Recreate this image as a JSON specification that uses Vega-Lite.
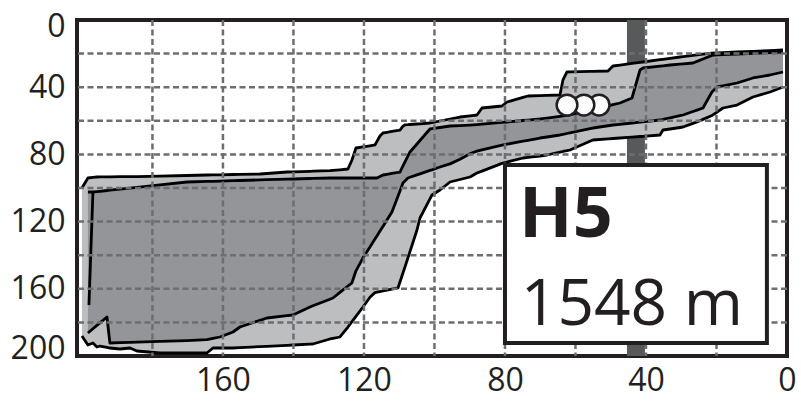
{
  "$schema": "https://vega.github.io/schema/vega-lite/v6.json",
  "width": 710,
  "height": 336,
  "autosize": {"type": "none"},
  "padding": {"left": 77, "top": 20, "right": 14, "bottom": 46},
  "background": "white",
  "config": {
    "view": {"stroke": "#231f20", "strokeWidth": 4},
    "axis": {"grid": false, "ticks": false, "domain": false, "labelFont": "Open Sans", "labelFontSize": 32, "labelColor": "#231f20"}
  },
  "datasets": {
    "band": [{"x0": 40.3, "x1": 45.4}],
    "grid": [{"g": 20}, {"g": 40}, {"g": 60}, {"g": 80}, {"g": 100}, {"g": 120}, {"g": 140}, {"g": 160}, {"g": 180}],
    "dots": [{"x": 53.3, "y": 50.6}, {"x": 57.6, "y": 50.6}, {"x": 62.4, "y": 50.6}],
    "box": [{"x0": 80.0, "x1": 5.7, "y0": 86.3, "y1": 192.3}],
    "labels": [{"x": 76.0, "y": 129.2, "t": "H5"}, {"x": 75.5, "y": 181.5, "t": "1548 m"}],
    "profile": [
      {"x": 200.0, "lo": 100.0, "hi": 188.1},
      {"x": 198.3, "lo": 94.05, "q1": 102.38, "q3": 186.31, "hi": 193.45},
      {"x": 198.01, "v": 169.64},
      {"x": 196.88, "lo": 93.63, "q1": 102.38, "q3": 183.81, "hi": 192.26, "v": 102.38},
      {"x": 195.74, "lo": 93.45, "q1": 102.14, "q3": 181.79, "hi": 194.64},
      {"x": 194.89, "lo": 93.42, "q1": 101.96, "q3": 180.3, "hi": 194.05},
      {"x": 192.91, "lo": 93.33, "q1": 101.49, "q3": 176.79, "hi": 194.88},
      {"x": 192.06, "lo": 93.33, "q1": 101.31, "q3": 192.26, "hi": 195.24},
      {"x": 189.22, "lo": 93.27, "q1": 100.65, "q3": 192.08, "hi": 195.83},
      {"x": 186.38, "lo": 93.21, "q1": 100.06, "q3": 191.9, "hi": 195.24},
      {"x": 184.4, "lo": 93.21, "q1": 99.58, "q3": 191.73, "hi": 197.02},
      {"x": 177.87, "lo": 92.98, "q1": 98.15, "q3": 191.31, "hi": 198.21},
      {"x": 170.21, "lo": 92.56, "q1": 96.43, "q3": 190.83, "hi": 198.21},
      {"x": 164.54, "lo": 92.26, "q1": 96.07, "q3": 190.24, "hi": 198.21},
      {"x": 162.84, "lo": 92.2, "q1": 96.01, "q3": 189.52, "hi": 195.24},
      {"x": 160.85, "lo": 92.14, "q1": 95.89, "q3": 188.69, "hi": 195.24},
      {"x": 157.16, "lo": 91.96, "q1": 95.65, "q3": 185.71, "hi": 195.24},
      {"x": 155.18, "lo": 91.9, "q1": 95.54, "q3": 182.74, "hi": 195.03},
      {"x": 149.5, "lo": 91.67, "q1": 95.18, "q3": 178.75, "hi": 194.4},
      {"x": 147.52, "lo": 91.37, "q1": 95.06, "q3": 177.38, "hi": 194.23},
      {"x": 141.84, "lo": 90.48, "q1": 94.76, "q3": 176.01, "hi": 193.63},
      {"x": 140.14, "lo": 90.36, "q1": 94.64, "q3": 175.6, "hi": 193.45},
      {"x": 135.32, "lo": 90.06, "q1": 94.35, "q3": 170.83, "hi": 192.98},
      {"x": 134.47, "lo": 90.0, "q1": 94.29, "q3": 170.12, "hi": 192.86},
      {"x": 129.65, "lo": 89.7, "q1": 94.05, "q3": 166.19, "hi": 189.88},
      {"x": 128.79, "lo": 89.52, "q1": 94.05, "q3": 165.48, "hi": 189.52},
      {"x": 126.81, "lo": 89.17, "q1": 94.05, "q3": 162.14, "hi": 188.69},
      {"x": 124.54, "lo": 88.69, "q1": 94.05, "q3": 158.33, "hi": 182.74},
      {"x": 123.4, "lo": 83.33, "q1": 94.05, "q3": 156.43, "hi": 179.58},
      {"x": 122.27, "lo": 76.19, "q1": 94.05, "q3": 149.29, "hi": 176.37},
      {"x": 120.28, "lo": 75.54, "q1": 94.05, "q3": 141.55, "hi": 170.83},
      {"x": 118.3, "lo": 74.88, "q1": 94.05, "q3": 135.12, "hi": 165.0},
      {"x": 116.88, "lo": 74.4, "q1": 94.05, "q3": 130.42, "hi": 162.26},
      {"x": 116.31, "lo": 72.26, "q1": 94.05, "q3": 128.51, "hi": 162.02},
      {"x": 115.46, "lo": 69.05, "q1": 93.15, "q3": 125.65, "hi": 161.67},
      {"x": 114.61, "lo": 67.26, "q1": 92.26, "q3": 122.86, "hi": 161.31},
      {"x": 113.48, "lo": 66.85, "q1": 91.85, "q3": 119.05, "hi": 160.83},
      {"x": 112.06, "lo": 66.31, "q1": 91.31, "q3": 114.29, "hi": 160.24},
      {"x": 110.35, "lo": 65.71, "q1": 90.71, "q3": 104.88, "hi": 159.52},
      {"x": 109.79, "lo": 65.48, "q1": 90.48, "q3": 101.73, "hi": 155.95},
      {"x": 108.94, "lo": 63.24, "q1": 86.9, "q3": 97.02, "hi": 150.6},
      {"x": 108.37, "lo": 62.44, "q1": 84.52, "q3": 95.83, "hi": 147.02},
      {"x": 107.52, "lo": 62.32, "q1": 80.95, "q3": 94.05, "hi": 141.52},
      {"x": 106.95, "lo": 62.2, "q1": 78.57, "q3": 93.63, "hi": 137.86},
      {"x": 104.96, "lo": 61.9, "q1": 73.81, "q3": 92.2, "hi": 125.0},
      {"x": 104.11, "lo": 61.79, "q1": 71.73, "q3": 91.61, "hi": 117.86},
      {"x": 101.28, "lo": 61.31, "q1": 64.88, "q3": 89.52, "hi": 106.43},
      {"x": 100.71, "lo": 61.07, "q1": 64.7, "q3": 89.17, "hi": 104.17},
      {"x": 98.44, "lo": 60.12, "q1": 63.99, "q3": 87.5, "hi": 101.19},
      {"x": 95.6, "lo": 58.93, "q1": 63.1, "q3": 85.65, "hi": 96.43},
      {"x": 92.77, "lo": 57.74, "q1": 62.86, "q3": 82.86, "hi": 94.94},
      {"x": 89.93, "lo": 57.02, "q1": 62.56, "q3": 79.58, "hi": 93.45},
      {"x": 87.94, "lo": 56.55, "q1": 62.26, "q3": 78.04, "hi": 91.07},
      {"x": 86.52, "lo": 52.38, "q1": 62.02, "q3": 77.32, "hi": 89.94},
      {"x": 80.85, "lo": 51.19, "q1": 60.95, "q3": 74.52, "hi": 85.36},
      {"x": 79.43, "lo": 48.81, "q1": 60.71, "q3": 73.93, "hi": 84.52},
      {"x": 74.89, "lo": 46.07, "q1": 59.82, "q3": 72.14, "hi": 82.14},
      {"x": 73.48, "lo": 45.24, "q1": 59.58, "q3": 71.61, "hi": 81.79},
      {"x": 70.07, "lo": 45.0, "q1": 58.93, "q3": 70.24, "hi": 80.95},
      {"x": 68.09, "lo": 44.88, "q1": 58.39, "q3": 69.64, "hi": 80.36},
      {"x": 64.4, "lo": 44.64, "q1": 57.32, "q3": 68.45, "hi": 78.69},
      {"x": 63.55, "lo": 35.71, "q1": 57.08, "q3": 68.1, "hi": 78.27},
      {"x": 62.41, "lo": 30.95, "q1": 56.79, "q3": 67.56, "hi": 77.8},
      {"x": 61.56, "lo": 30.89, "q1": 56.55, "q3": 67.2, "hi": 77.38},
      {"x": 55.89, "lo": 30.6, "q1": 53.57, "q3": 64.64, "hi": 72.2},
      {"x": 55.04, "lo": 30.54, "q1": 53.15, "q3": 64.29, "hi": 71.43},
      {"x": 50.78, "lo": 30.36, "q1": 51.07, "q3": 62.95, "hi": 70.77},
      {"x": 49.36, "lo": 27.38, "q1": 50.36, "q3": 62.5, "hi": 70.54},
      {"x": 47.38, "lo": 26.85, "q1": 49.4, "q3": 62.08, "hi": 70.24},
      {"x": 43.97, "lo": 25.83, "q1": 46.43, "q3": 61.31, "hi": 69.7},
      {"x": 41.7, "lo": 25.24, "q1": 29.76, "q3": 60.77, "hi": 69.35},
      {"x": 40.85, "lo": 25.0, "q1": 28.57, "q3": 60.6, "hi": 69.23},
      {"x": 36.03, "lo": 23.63, "q1": 27.44, "q3": 59.52, "hi": 68.45},
      {"x": 35.18, "lo": 23.39, "q1": 27.26, "q3": 59.11, "hi": 65.48},
      {"x": 33.19, "lo": 22.8, "q1": 26.79, "q3": 58.21, "hi": 64.88},
      {"x": 30.35, "lo": 22.02, "q1": 26.25, "q3": 56.96, "hi": 63.99},
      {"x": 29.5, "lo": 21.79, "q1": 26.13, "q3": 56.55, "hi": 63.69},
      {"x": 26.67, "lo": 21.07, "q1": 25.6, "q3": 54.46, "hi": 61.55},
      {"x": 25.53, "lo": 20.77, "q1": 24.64, "q3": 53.63, "hi": 60.71},
      {"x": 23.83, "lo": 20.36, "q1": 23.21, "q3": 52.38, "hi": 59.17},
      {"x": 21.28, "lo": 19.7, "q1": 21.07, "q3": 42.86, "hi": 56.79},
      {"x": 19.86, "lo": 19.52, "q1": 20.71, "q3": 39.88, "hi": 54.88},
      {"x": 18.16, "lo": 19.4, "q1": 20.6, "q3": 39.17, "hi": 52.38},
      {"x": 14.18, "lo": 19.05, "q1": 20.24, "q3": 37.5, "hi": 50.6},
      {"x": 9.65, "lo": 18.63, "q1": 19.82, "q3": 34.52, "hi": 45.83},
      {"x": 4.82, "lo": 18.21, "q1": 19.4, "q3": 32.74, "hi": 42.86},
      {"x": 1.13, "lo": 17.86, "q1": 19.05, "q3": 30.95, "hi": 39.88}
    ]
  },
  "layer": [
    {
      "data": {"name": "band"},
      "mark": {"type": "rect", "color": "#58595b"},
      "encoding": {
        "x": {"field": "x0", "type": "quantitative", "title": null,
              "scale": {"domain": [0, 201.4], "reverse": true, "nice": false, "zero": false},
              "axis": {"values": [0, 40, 80, 120, 160], "labelPadding": 9, "labelFlush": false, "labelOverlap": false}},
        "x2": {"field": "x1"}
      }
    },
    {
      "data": {"name": "profile"},
      "transform": [{"filter": "isValid(datum.lo) && isValid(datum.hi)"}],
      "mark": {"type": "area", "color": "#bcbec0", "opacity": 1},
      "encoding": {
        "x": {"field": "x", "type": "quantitative", "title": null},
        "y": {"field": "lo", "type": "quantitative", "title": null, "stack": null,
              "scale": {"domain": [0, 200], "reverse": true, "nice": false, "zero": false},
              "axis": {"values": [0, 40, 80, 120, 160, 200], "labelPadding": 12, "labelFlush": true, "labelFlushOffset": 9, "labelOverlap": false}},
        "y2": {"field": "hi"}
      }
    },
    {
      "data": {"name": "profile"},
      "transform": [{"filter": "isValid(datum.q1) && isValid(datum.q3)"}],
      "mark": {"type": "area", "color": "#939598", "opacity": 1},
      "encoding": {
        "x": {"field": "x", "type": "quantitative", "title": null},
        "y": {"field": "q1", "type": "quantitative", "title": null, "stack": null},
        "y2": {"field": "q3"}
      }
    },
    {
      "data": {"name": "profile"},
      "transform": [
        {"fold": ["lo", "q1", "q3", "hi", "v"], "as": ["key", "val"]},
        {"filter": "isValid(datum.val)"}
      ],
      "mark": {"type": "line", "color": "#000000", "strokeWidth": 2.8, "strokeJoin": "round"},
      "encoding": {
        "x": {"field": "x", "type": "quantitative", "title": null},
        "y": {"field": "val", "type": "quantitative", "title": null},
        "detail": {"field": "key"}
      }
    },
    {
      "data": {"name": "grid"},
      "mark": {"type": "rule", "color": "#6d6e71", "strokeWidth": 2.5, "strokeDash": [6, 3.5]},
      "encoding": {"x": {"field": "g", "type": "quantitative", "title": null}}
    },
    {
      "data": {"name": "grid"},
      "mark": {"type": "rule", "color": "#6d6e71", "strokeWidth": 2.5, "strokeDash": [6, 3.5]},
      "encoding": {"y": {"field": "g", "type": "quantitative", "title": null}}
    },
    {
      "data": {"name": "dots"},
      "mark": {"type": "point", "shape": "circle", "filled": true, "fill": "white", "stroke": "#231f20", "strokeWidth": 2.5, "size": 430, "opacity": 1},
      "encoding": {
        "x": {"field": "x", "type": "quantitative", "title": null},
        "y": {"field": "y", "type": "quantitative", "title": null}
      }
    },
    {
      "data": {"name": "box"},
      "mark": {"type": "rect", "fill": "white", "stroke": "#231f20", "strokeWidth": 4},
      "encoding": {
        "x": {"field": "x0", "type": "quantitative", "title": null},
        "x2": {"field": "x1"},
        "y": {"field": "y0", "type": "quantitative", "title": null},
        "y2": {"field": "y1"}
      }
    },
    {
      "data": {"name": "labels"},
      "transform": [{"filter": "datum.t == 'H5'"}],
      "mark": {"type": "text", "align": "left", "baseline": "alphabetic", "font": "Open Sans", "fontWeight": "bold", "fontSize": 70, "color": "#231f20"},
      "encoding": {
        "x": {"field": "x", "type": "quantitative", "title": null},
        "y": {"field": "y", "type": "quantitative", "title": null},
        "text": {"field": "t"}
      }
    },
    {
      "data": {"name": "labels"},
      "transform": [{"filter": "datum.t != 'H5'"}],
      "mark": {"type": "text", "align": "left", "baseline": "alphabetic", "font": "Open Sans", "fontSize": 64, "color": "#231f20"},
      "encoding": {
        "x": {"field": "x", "type": "quantitative", "title": null},
        "y": {"field": "y", "type": "quantitative", "title": null},
        "text": {"field": "t"}
      }
    }
  ]
}
